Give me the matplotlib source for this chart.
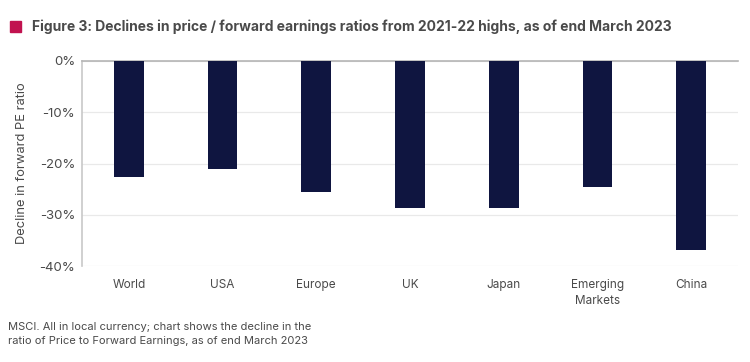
import matplotlib.pyplot as plt
from matplotlib.patches import Rectangle
from matplotlib.ticker import FuncFormatter

plt.rcParams['font.family'] = ['Inter', 'DejaVu Sans']

regions = ['World', 'USA', 'Europe', 'UK', 'Japan', 'Emerging\nMarkets', 'China']
pe_decline = [-22.7, -21.0, -25.6, -28.6, -28.6, -24.5, -36.8]
y_ticks = [0, -10, -20, -30, -40]

text_color = '#4a4a4a'
bar_color = '#0f1540'

fig = plt.figure(figsize=(7.5, 3.62), dpi=100)
ax = fig.add_axes([0.1093, 0.265, 0.8747, 0.5665])

x = range(len(regions))
ax.bar(x, pe_decline, width=0.316, color=bar_color, zorder=3)

ax.set_xlim(-0.5, len(regions) - 0.5)
ax.set_ylim(-40, 0)
ax.set_yticks(y_ticks)
ax.yaxis.set_major_formatter(FuncFormatter(lambda v, _: f"{v:.0f}%"))
ax.set_xticks(list(x))
ax.set_xticklabels(regions, fontsize=8.5, color=text_color, linespacing=1.5)
ax.tick_params(axis='y', labelsize=9.5, labelcolor=text_color, length=0, pad=5)
ax.tick_params(axis='x', length=0, pad=9)

ax.grid(axis='y', color='#e9e9e9', linewidth=0.9, zorder=0)
for side in ['right', 'bottom']:
    ax.spines[side].set_visible(False)
ax.spines['top'].set_color('#b5b5b5')
ax.spines['top'].set_linewidth(1.2)
ax.spines['left'].set_color('#c8c8c8')
ax.spines['left'].set_linewidth(1.2)

ax.set_ylabel("Decline in forward PE ratio", fontsize=9.3, color=text_color, labelpad=8)

# title with red marker
fig.patches.append(Rectangle((10 / 750, 1 - 32 / 362), 11 / 750, 11 / 362,
                             transform=fig.transFigure, color='#c1124f'))
fig.text(32 / 750, 1 - 27 / 362,
         "Figure 3: Declines in price / forward earnings ratios from 2021-22 highs, as of end March 2023",
         fontsize=10, fontweight='bold', color=text_color, va='center', ha='left')

fig.text(8 / 750, 1 - 334 / 362,
         "MSCI. All in local currency; chart shows the decline in the\n"
         "ratio of Price to Forward Earnings, as of end March 2023",
         fontsize=8, color=text_color, va='center', ha='left', linespacing=1.5)

fig.savefig("out.png", dpi=100)
plt.close(fig)
